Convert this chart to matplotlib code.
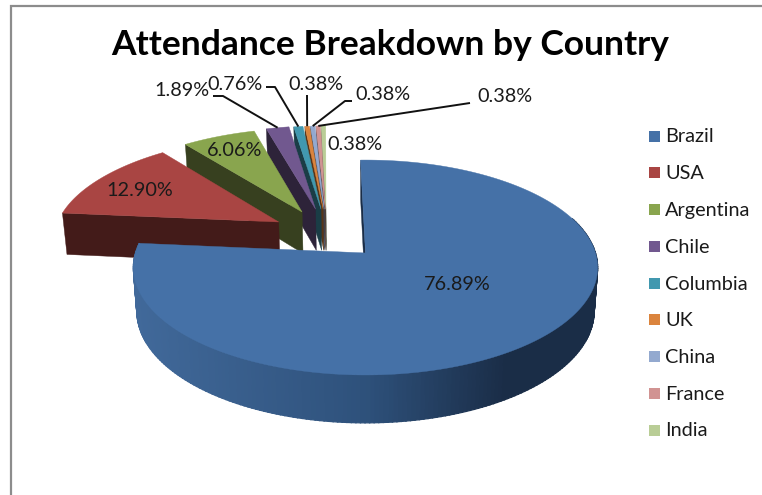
#!/usr/bin/env python3
"""Attendance breakdown by country, drawn as an exploded 3D style pie"""

import numpy as np
import matplotlib
matplotlib.use('Agg')
import matplotlib.pyplot as plt
from matplotlib.colors import to_rgb
from matplotlib.patches import Polygon, Rectangle

countries = ['Brazil', 'USA', 'Argentina', 'Chile', 'Columbia', 'UK', 'China', 'France', 'India']
shares = [76.89, 12.90, 6.06, 1.89, 0.76, 0.38, 0.38, 0.38, 0.38]
top_colors = ['#4571A7', '#A94543', '#89A54E', '#71588F', '#4198AF', '#DB843D', '#93A9CF', '#D19392', '#B9CD96']
wall_colors = ['#1A2D47', '#431B19', '#37401F', '#2D2339', '#1A3D46', '#583518', '#3B4453', '#543B3A', '#4A523C']

# slice offsets on the pie plane (left/right, back/front)
offset_x = [0.0, -0.393, -0.291, -0.23, -0.205, -0.195, -0.19, -0.185, -0.182]
offset_y = [0.0, 0.306, 0.41, 0.44, 0.44, 0.44, 0.44, 0.44, 0.44]

# pixel layout of the fake 3D projection
CX, CY = 365.5, 253
RX, RY = 230, 105.5
PERSP = 0.135
DEPTH = 43
BOTTOM_SCALE = 0.985
FIRST_ANGLE = -1.4


def project(px, py, bottom=False):
    """Plane coords to pixels, with a bit of perspective"""
    s = 1 / (1 + PERSP * py)
    x = RX * px * s
    y = -RY * py * s
    if bottom:
        return CX + x * BOTTOM_SCALE, CY + y * BOTTOM_SCALE + DEPTH * s
    return CX + x, CY + y


def arc(start, end, ox, oy, n=2):
    theta = np.radians(np.linspace(start, end, n))
    return np.sin(theta) + ox, np.cos(theta) + oy


def cut_face(angle, ox, oy, color):
    cx, cy = arc(angle, angle, ox, oy, 1)
    pts = [project(ox, oy), project(cx[0], cy[0]), project(cx[0], cy[0], True), project(ox, oy, True)]
    ax.add_patch(Polygon(pts, closed=True, facecolor=color, edgecolor=color, linewidth=0.3))


fig = plt.figure(figsize=(7.62, 4.95), dpi=100)
ax = fig.add_axes([0, 0, 1, 1])
ax.set_xlim(0, 762)
ax.set_ylim(495, 0)
ax.axis('off')

# chart frame, only top and left show
ax.plot([10.5, 10.5, 762], [495, 5.5, 5.5], color='#8C8C8C', linewidth=1.6, solid_joinstyle='miter')

edges = np.concatenate([[0], np.cumsum(shares)]) * 360 / sum(shares) + FIRST_ANGLE

# back to front: small slices first, Brazil last
for i in range(len(shares) - 1, -1, -1):
    start, end = edges[i], edges[i + 1]
    ox, oy = offset_x[i], offset_y[i]
    n = max(4, int((end - start) * 2))
    ax_pts, ay_pts = arc(start, end, ox, oy, n)

    if i > 0:
        cut_face(start, ox, oy, wall_colors[i])
    else:
        cut_face(start, ox, oy, wall_colors[0])
        # outer rim of Brazil, shaded from left to right
        left = np.array(to_rgb('#41699A'))
        mid = np.array(to_rgb('#2E517B'))
        right = np.array(to_rgb('#1A2D47'))
        for a in np.arange(70, end, 1.0):
            rim_x, rim_y = arc(a, min(a + 1.2, end), ox, oy)
            tx, ty = project(rim_x, rim_y)
            bx, by = project(rim_x, rim_y, True)
            pos = np.clip((tx.mean() - 134) / (598 - 134), 0, 1)
            if pos < 0.5:
                col = left + (mid - left) * pos / 0.5
            else:
                col = mid + (right - mid) * min(1, (pos - 0.5) / 0.3)
            quad = np.column_stack([np.r_[tx, bx[::-1]], np.r_[ty, by[::-1]]])
            ax.add_patch(Polygon(quad, closed=True, facecolor=col, edgecolor=col, linewidth=0.9))

    sx, sy = project(np.r_[ox, ax_pts], np.r_[oy, ay_pts])
    ax.add_patch(Polygon(np.column_stack([sx, sy]), closed=True, facecolor=top_colors[i],
                         edgecolor=top_colors[i], linewidth=0.3))

LABEL_FONT = 'Lato'
TEXT_COLOR = '#1A1A1A'

ax.text(390, 45, 'Attendance Breakdown by Country', ha='center', va='center',
        fontsize=25.5, fontweight='bold', family=LABEL_FONT, color='black')

# value labels, same order as the slices
label_x = [457, 140, 235, 182, 235, 316, 383, 505, 355]
label_y = [285, 190, 151, 90, 84, 85, 95, 97, 145]
for i, share in enumerate(shares):
    ax.text(label_x[i], label_y[i], f'{share:.2f}%', ha='center', va='center',
            fontsize=14.3, family=LABEL_FONT, color=TEXT_COLOR)

# leader lines, slice index then the elbow and end of each line
leaders = {
    3: ([223, 213], [96, 96]),
    4: ([275, 266], [87, 87]),
    5: ([307, 307], [95, 95]),
    6: ([345, 352], [101, 101]),
    7: ([470, 470], [103, 103]),
}
for i, (lx, ly) in leaders.items():
    mid = (edges[i] + edges[i + 1]) / 2
    ex, ey = arc(mid, mid, offset_x[i], offset_y[i], 1)
    sx, sy = project(ex[0], ey[0])
    ax.plot([sx] + lx, [sy] + ly, color='#111111', linewidth=1.4, solid_capstyle='butt')

# legend
legend_y = np.linspace(136, 430, len(countries))
for name, color, y in zip(countries, top_colors, legend_y):
    ax.add_patch(Rectangle((648.5, y - 5.5), 11, 11, facecolor=color, edgecolor='none'))
    ax.text(665, y + 1, name, ha='left', va='center', fontsize=14.3, family=LABEL_FONT, color=TEXT_COLOR)

fig.savefig('out.png', dpi=100, facecolor='white')
plt.close(fig)
